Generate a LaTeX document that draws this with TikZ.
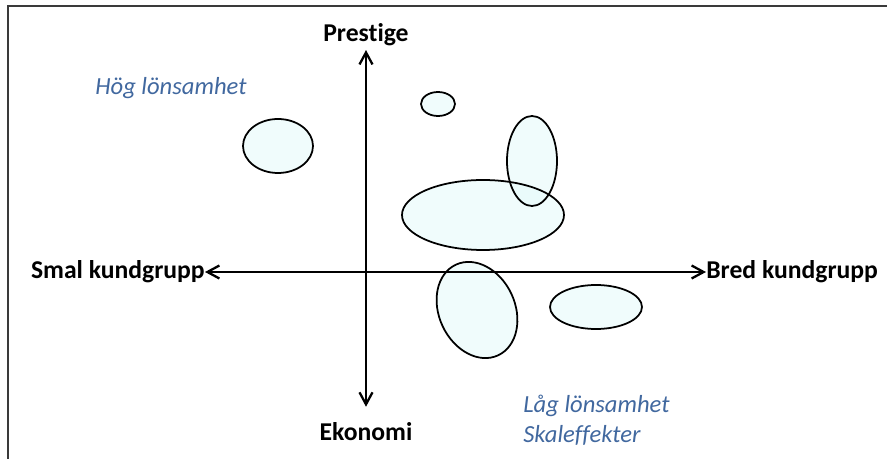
\documentclass[tikz,border=0pt]{standalone}
\usepackage{fontspec}
\setmainfont{Carlito}[Ligatures={NoCommon}]
\usetikzlibrary{arrows.meta}
\definecolor{cnote}{HTML}{41689F}
\definecolor{cblob}{HTML}{E6FAFA}
\definecolor{cframe}{HTML}{3A3A3A}
\tikzset{
  axislabel/.style={font=\fontsize{14.6}{17}\selectfont\bfseries, inner sep=1pt},
  note/.style={font=\fontsize{14}{17}\selectfont\itshape, text=cnote, align=left, inner sep=0pt},
  axis/.style={{Straight Barb[length=2.4mm, width=2.6mm]}-{Straight Barb[length=2.4mm, width=2.6mm]}, line width=1.3pt},
  blobfill/.style={fill=cblob, fill opacity=0.6},
  blobline/.style={draw, line width=1pt},
  frame/.style={draw=cframe, line width=0.8pt},
}

\begin{document}
\begin{tikzpicture}[x=0.02cm, y=-0.02cm]
  \useasboundingbox (0,0) rectangle (887,459);
  \draw[frame] (8,459) |- (887,6);
  % axis labels
  \node[axislabel] (prestige) at (366,35) {Prestige};
  \node[axislabel] (ekonomi) at (366,432) {Ekonomi};
  \node[axislabel, anchor=east, inner sep=0pt] (smal) at (205,272) {Smal kundgrupp};
  \node[axislabel, anchor=west, inner sep=0pt] (bred) at (706,272) {Bred kundgrupp};
  % profitability notes
  \node[note, anchor=west] (hog) at (95,88) {Hög lönsamhet};
  \node[note, anchor=north west] (lag) at (523,395) {Låg lönsamhet\\Skaleffekter};
  % groups in the map: fills first, outlines on top
  \foreach \s in {blobfill, blobline} {
    \foreach \cx/\cy/\rx/\ry in {278/146/35/27, 438/104/17/12, 532/161/25/45, 483/215/81/35, 596/307/46/22}
      { \path[\s] (\cx,\cy) ellipse [x radius=\rx, y radius=\ry]; }
    \path[\s, rotate around={-65:(477,310)}] (477,310) ellipse [x radius=50, y radius=38];
  }
  % the two axes
  \draw[axis, shorten <=8pt, shorten >=1pt] (ekonomi.north) -- (prestige.south);
  \draw[axis] (smal.east) -- (bred.west);
\end{tikzpicture}
\end{document}
